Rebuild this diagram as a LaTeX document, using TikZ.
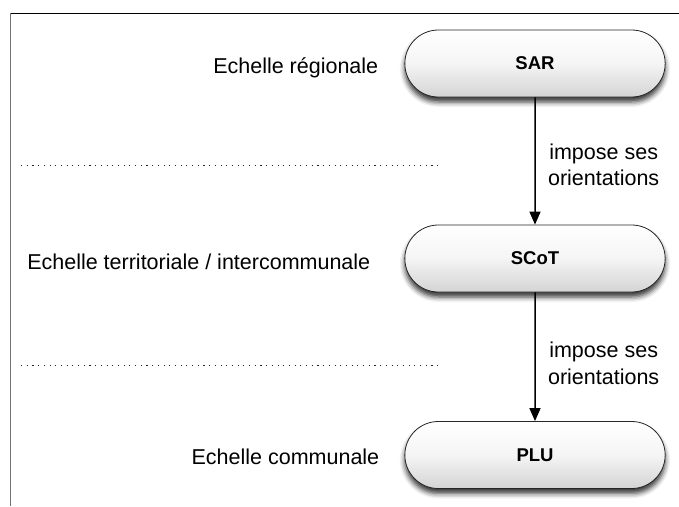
\documentclass[tikz,border=0pt]{standalone}
\usepackage{fontspec}
\setmainfont{Liberation Sans}
\usetikzlibrary{positioning,arrows.meta,shapes.misc,shadows.blur}
\tikzset{
    levelbox/.style={rounded rectangle, draw=black!85, line width=0.8pt,
        minimum width=267pt, minimum height=67pt,
        top color=white, bottom color=black!17, middle color=black!4,
        blur shadow={shadow xshift=0pt, shadow yshift=-5pt, shadow blur radius=5pt, shadow opacity=80},
        font=\bfseries\fontsize{18.5}{21}\selectfont},
    levellabel/.style={font=\fontsize{21.5}{25}\selectfont, inner sep=0pt},
    flowarrow/.style={line width=1.5pt, -{Triangle[length=13pt,width=11pt]}},
    flowlabel/.style={font=\fontsize{21.5}{26.5}\selectfont, align=center},
    sepline/.style={black!85, line width=1pt, dash pattern=on 1.1pt off 4.6pt}
}
\begin{document}
\begin{tikzpicture}[x=1pt,y=-1pt]
        % Define dimensions
        \def\pagew{679}
        \def\pageh{506}
        \def\colx{535}
        \useasboundingbox (0,0) rectangle (\pagew,\pageh);
        % Frame
        \draw[black, line width=1pt] (10,13) -- (\pagew,13);
        \draw[black!55, line width=1.5pt] (10.5,13) -- (10.5,\pageh);
        % Levels
        \node[levelbox] (sar) at (\colx,63.5) {SAR};
        \node[levelbox] (scot) at (\colx,258.5) {SCoT};
        \node[levelbox] (plu) at (\colx,455) {PLU};
        % Scale labels
        \node[levellabel, left=26pt of sar, yshift=-4pt] (lsar) {Echelle régionale};
        \node[levellabel, left=34pt of scot, yshift=-3pt] (lscot) {Echelle territoriale / intercommunale};
        \node[levellabel, left=25pt of plu, yshift=-2pt] (lplu) {Echelle communale};
        % Separators
        \draw[sepline] (21,165) -- (442,165);
        \draw[sepline] (21,365) -- (442,365);
        % Arrows
        \draw[flowarrow] (sar) -- node[flowlabel, right=9pt, pos=0.53] (osar) {impose ses\\orientations} (scot);
        \draw[flowarrow] (scot) -- node[flowlabel, right=9pt, pos=0.55] (oscot) {impose ses\\orientations} (plu);
    \end{tikzpicture}
\end{document}
